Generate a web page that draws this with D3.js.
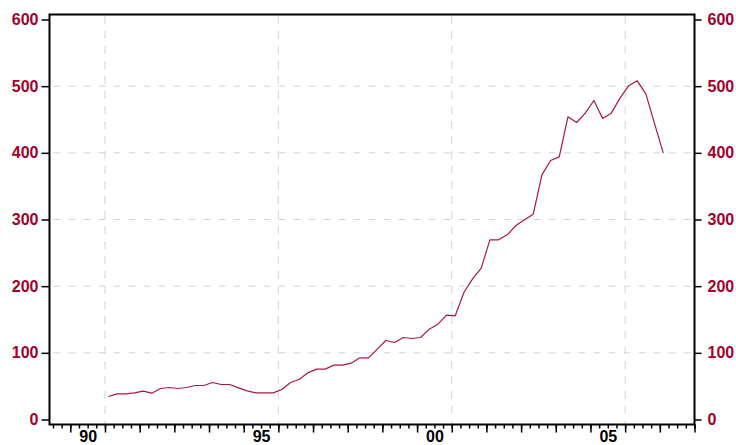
<!DOCTYPE html>
<html>
<head>
<meta charset="utf-8">
<script src="https://cdn.jsdelivr.net/npm/d3@7"></script>
<style>
  body { margin: 0; background: #fff; }
  svg { display: block; }
  text { font-family: "Liberation Sans", Arial, Helvetica, sans-serif; font-weight: bold; }
</style>
</head>
<body>
<figure style="margin:0"></figure>
<script>
// quarterly observations, 1991Q1 .. 2007Q1
const quarters = [
  '1991Q1','1991Q2','1991Q3','1991Q4','1992Q1','1992Q2','1992Q3','1992Q4',
  '1993Q1','1993Q2','1993Q3','1993Q4','1994Q1','1994Q2','1994Q3','1994Q4',
  '1995Q1','1995Q2','1995Q3','1995Q4','1996Q1','1996Q2','1996Q3','1996Q4',
  '1997Q1','1997Q2','1997Q3','1997Q4','1998Q1','1998Q2','1998Q3','1998Q4',
  '1999Q1','1999Q2','1999Q3','1999Q4','2000Q1','2000Q2','2000Q3','2000Q4',
  '2001Q1','2001Q2','2001Q3','2001Q4','2002Q1','2002Q2','2002Q3','2002Q4',
  '2003Q1','2003Q2','2003Q3','2003Q4','2004Q1','2004Q2','2004Q3','2004Q4',
  '2005Q1','2005Q2','2005Q3','2005Q4','2006Q1','2006Q2','2006Q3','2006Q4',
  '2007Q1'
];
const values = [
  34.5, 38.5, 38.5, 40, 42.5, 39.5, 46.5, 48,
  46.5, 48, 51, 51, 55.5, 52.5, 52.5, 47.5,
  43, 40, 40, 40, 45, 55.5, 60, 70,
  75.5, 75.5, 81.5, 81.5, 84.5, 92.5, 92.5, 105.5,
  118.5, 115.5, 123, 121.5, 123, 135.5, 143, 156.5,
  155.5, 190.5, 211, 227, 269.5, 269.5, 277, 291,
  299.5, 308, 367, 388.5, 394, 454, 445.5, 459.5,
  478.5, 451.5, 459.5, 482, 500.5, 508, 488, 443.5,
  399.5
];
const yTicks = [0, 100, 200, 300, 400, 500, 600];
const yGrid = [100, 200, 300, 400, 500];
const xLabelYears = [1990, 1995, 2000, 2005];
const xTickLabels = ['90', '95', '00', '05'];
const xGridYears = [1991, 1996, 2001, 2006];

(() => {
  const totalWidth = 736;
  const totalHeight = 445;
  const left = 49.5, right = 694.5, top = 14.5, bottom = 424.5;
  const red = '#a5002c';

  const svg = d3.select('figure').append('svg')
    .attr('width', totalWidth)
    .attr('height', totalHeight);

  const toYear = (q) => +q.slice(0, 4) + (+q.slice(5) - 1) / 4 + 0.1;

  const x = d3.scaleLinear().domain([1989.4, 2008]).range([left, right]);
  const y = d3.scaleLinear().domain([0, 600]).range([419.5, 19.5]);

  // grid
  svg.append('g').selectAll('line').data(yGrid).join('line')
    .attr('x1', left).attr('x2', right)
    .attr('y1', d => y(d)).attr('y2', d => y(d))
    .attr('stroke', '#d4d4d4').attr('stroke-dasharray', '7,8').attr('stroke-dashoffset', 11);
  svg.append('g').selectAll('line').data(xGridYears).join('line')
    .attr('x1', d => x(d)).attr('x2', d => x(d))
    .attr('y1', top).attr('y2', bottom)
    .attr('stroke', '#d4d4d4').attr('stroke-dasharray', '8,7').attr('stroke-dashoffset', 13.5);

  // series
  const line = d3.line()
    .x((d, i) => x(toYear(quarters[i])))
    .y(d => y(d));
  svg.append('path')
    .datum(values)
    .attr('fill', 'none')
    .attr('stroke', '#b0173e')
    .attr('stroke-width', 1.2)
    .attr('stroke-linejoin', 'round')
    .attr('d', line);

  // x axis: quarter ticks, year ticks, labels
  const minor = d3.range(1989.5, 2008.01, 0.25);
  const major = d3.range(1990, 2009, 1);
  const styleAxis = (g) => {
    g.select('.domain').remove();
    g.selectAll('line').attr('stroke', '#000').attr('stroke-width', 1.5);
  };
  svg.append('g')
    .attr('transform', 'translate(0,' + bottom + ')')
    .call(d3.axisBottom(x).tickValues(minor).tickSize(4).tickFormat(''))
    .call(styleAxis);
  svg.append('g')
    .attr('transform', 'translate(0,' + bottom + ')')
    .call(d3.axisBottom(x).tickValues(major).tickSize(8).tickFormat(''))
    .call(styleAxis);
  svg.append('g')
    .attr('transform', 'translate(0,' + bottom + ')')
    .call(d3.axisBottom(x).tickValues(xLabelYears.map(d => d + 0.5)).tickSize(0).tickPadding(6)
      .tickFormat((d, i) => xTickLabels[i]))
    .call(g => g.select('.domain').remove())
    .call(g => g.selectAll('text').attr('fill', '#000').style('font-size', '16px'));

  // y axes
  svg.append('g')
    .attr('transform', 'translate(' + left + ',0)')
    .call(d3.axisLeft(y).tickValues(yTicks).tickSize(8).tickPadding(3))
    .call(styleAxis)
    .call(g => g.selectAll('text').attr('fill', red).style('font-size', '16px'));
  svg.append('g')
    .attr('transform', 'translate(' + right + ',0)')
    .call(d3.axisRight(y).tickValues(yTicks).tickSize(7).tickPadding(6))
    .call(styleAxis)
    .call(g => g.selectAll('text').attr('fill', red).style('font-size', '16px'));

  // frame
  svg.append('rect')
    .attr('x', left).attr('y', top)
    .attr('width', right - left).attr('height', bottom - top)
    .attr('fill', 'none')
    .attr('stroke', '#000')
    .attr('stroke-width', 2);
})();
</script>
</body>
</html>
